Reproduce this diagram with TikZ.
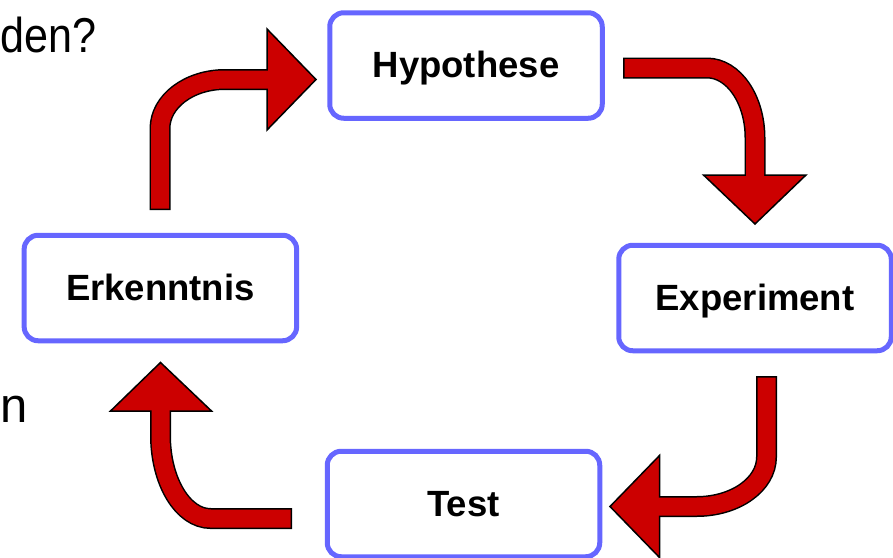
\documentclass[tikz,border=0pt]{standalone}
\usepackage{fontspec}
\setmainfont{Liberation Sans}
\usetikzlibrary{calc}

\definecolor{boxblue}{HTML}{6666FF}
\definecolor{arrred}{HTML}{CC0000}

\tikzset{
  stage/.style={draw=boxblue, line width=5pt, rounded corners=14pt, fill=white,
    minimum width=272.5pt, minimum height=105.5pt, inner sep=0pt,
    font=\fontsize{36.5}{40}\selectfont\bfseries, text height=26pt, text depth=2pt},
  shaftline/.style={line width=21pt, draw=black, shorten <=-1.5pt},
  shaftfill/.style={line width=18pt, draw=arrred, shorten >=-2pt},
  arrhead/.style={fill=arrred, draw=black, line width=1.5pt, line join=miter},
  bigtext/.style={font=\fontsize{49}{52}\selectfont, anchor=base west, inner sep=0pt},
}

% shaft path, then head polygon
\newcommand{\redarrow}[2]{%
  \draw[shaftline] #1;
  \filldraw[arrhead] #2;
  \draw[shaftfill] #1;
}

\begin{document}
\begin{tikzpicture}[x=1pt, y=-1pt]
\useasboundingbox (0,0) rectangle (893,557);

% the four stages
\node[stage] (hyp) at (466,65.5) {Hypothese};
\node[stage] (exp) at (755,298) {Experiment};
\node[stage] (test) at (463.5,504) {Test};
\node[stage] (erk) at (160.4,288) {Erkenntnis};

% text at the left edge
\node[bigtext] (frag1) at (0,52.5) {\scalebox{0.88}[1]{den?}};
\node[bigtext] (frag2) at (0.5,422) {n};

% ends of the bent arrows
\coordinate (t1) at (160,208.5);   \coordinate (b1) at (267,79.5);
\coordinate (t2) at (624.5,68);    \coordinate (b2) at (755,175);
\coordinate (t3) at (766.5,377.5); \coordinate (b3) at (659.5,506.5);
\coordinate (t4) at (290.5,518.5); \coordinate (b4) at (160.5,411);

% Erkenntnis -> Hypothese
\redarrow{(t1) -- (160,128.5) .. controls (160,101.4) and (189.1,79.5) .. (225,79.5) -- (b1)}
  {(267,29) -- (316,79.5) -- (267,130) -- cycle}
% Hypothese -> Experiment
\redarrow{(t2) -- (707,68) .. controls (733.5,68) and (755,99.3) .. (755,138) -- (b2)}
  {(703.5,175) -- (755,224) -- (806,175) -- cycle}
% Experiment -> Test
\redarrow{(t3) -- (766.5,457) .. controls (766.5,484.6) and (735.2,506.5) .. (696.5,506.5) -- (b3)}
  {(659.5,455.5) -- (610,506.5) -- (659.5,557.5) -- cycle}
% Test -> Erkenntnis
\redarrow{(t4) -- (210.5,518.5) .. controls (182.9,518.5) and (160.5,481.3) .. (160.5,435.5) -- (b4)}
  {(110.5,411) -- (160.5,362.5) -- (211.5,411) -- cycle}
\end{tikzpicture}
\end{document}
